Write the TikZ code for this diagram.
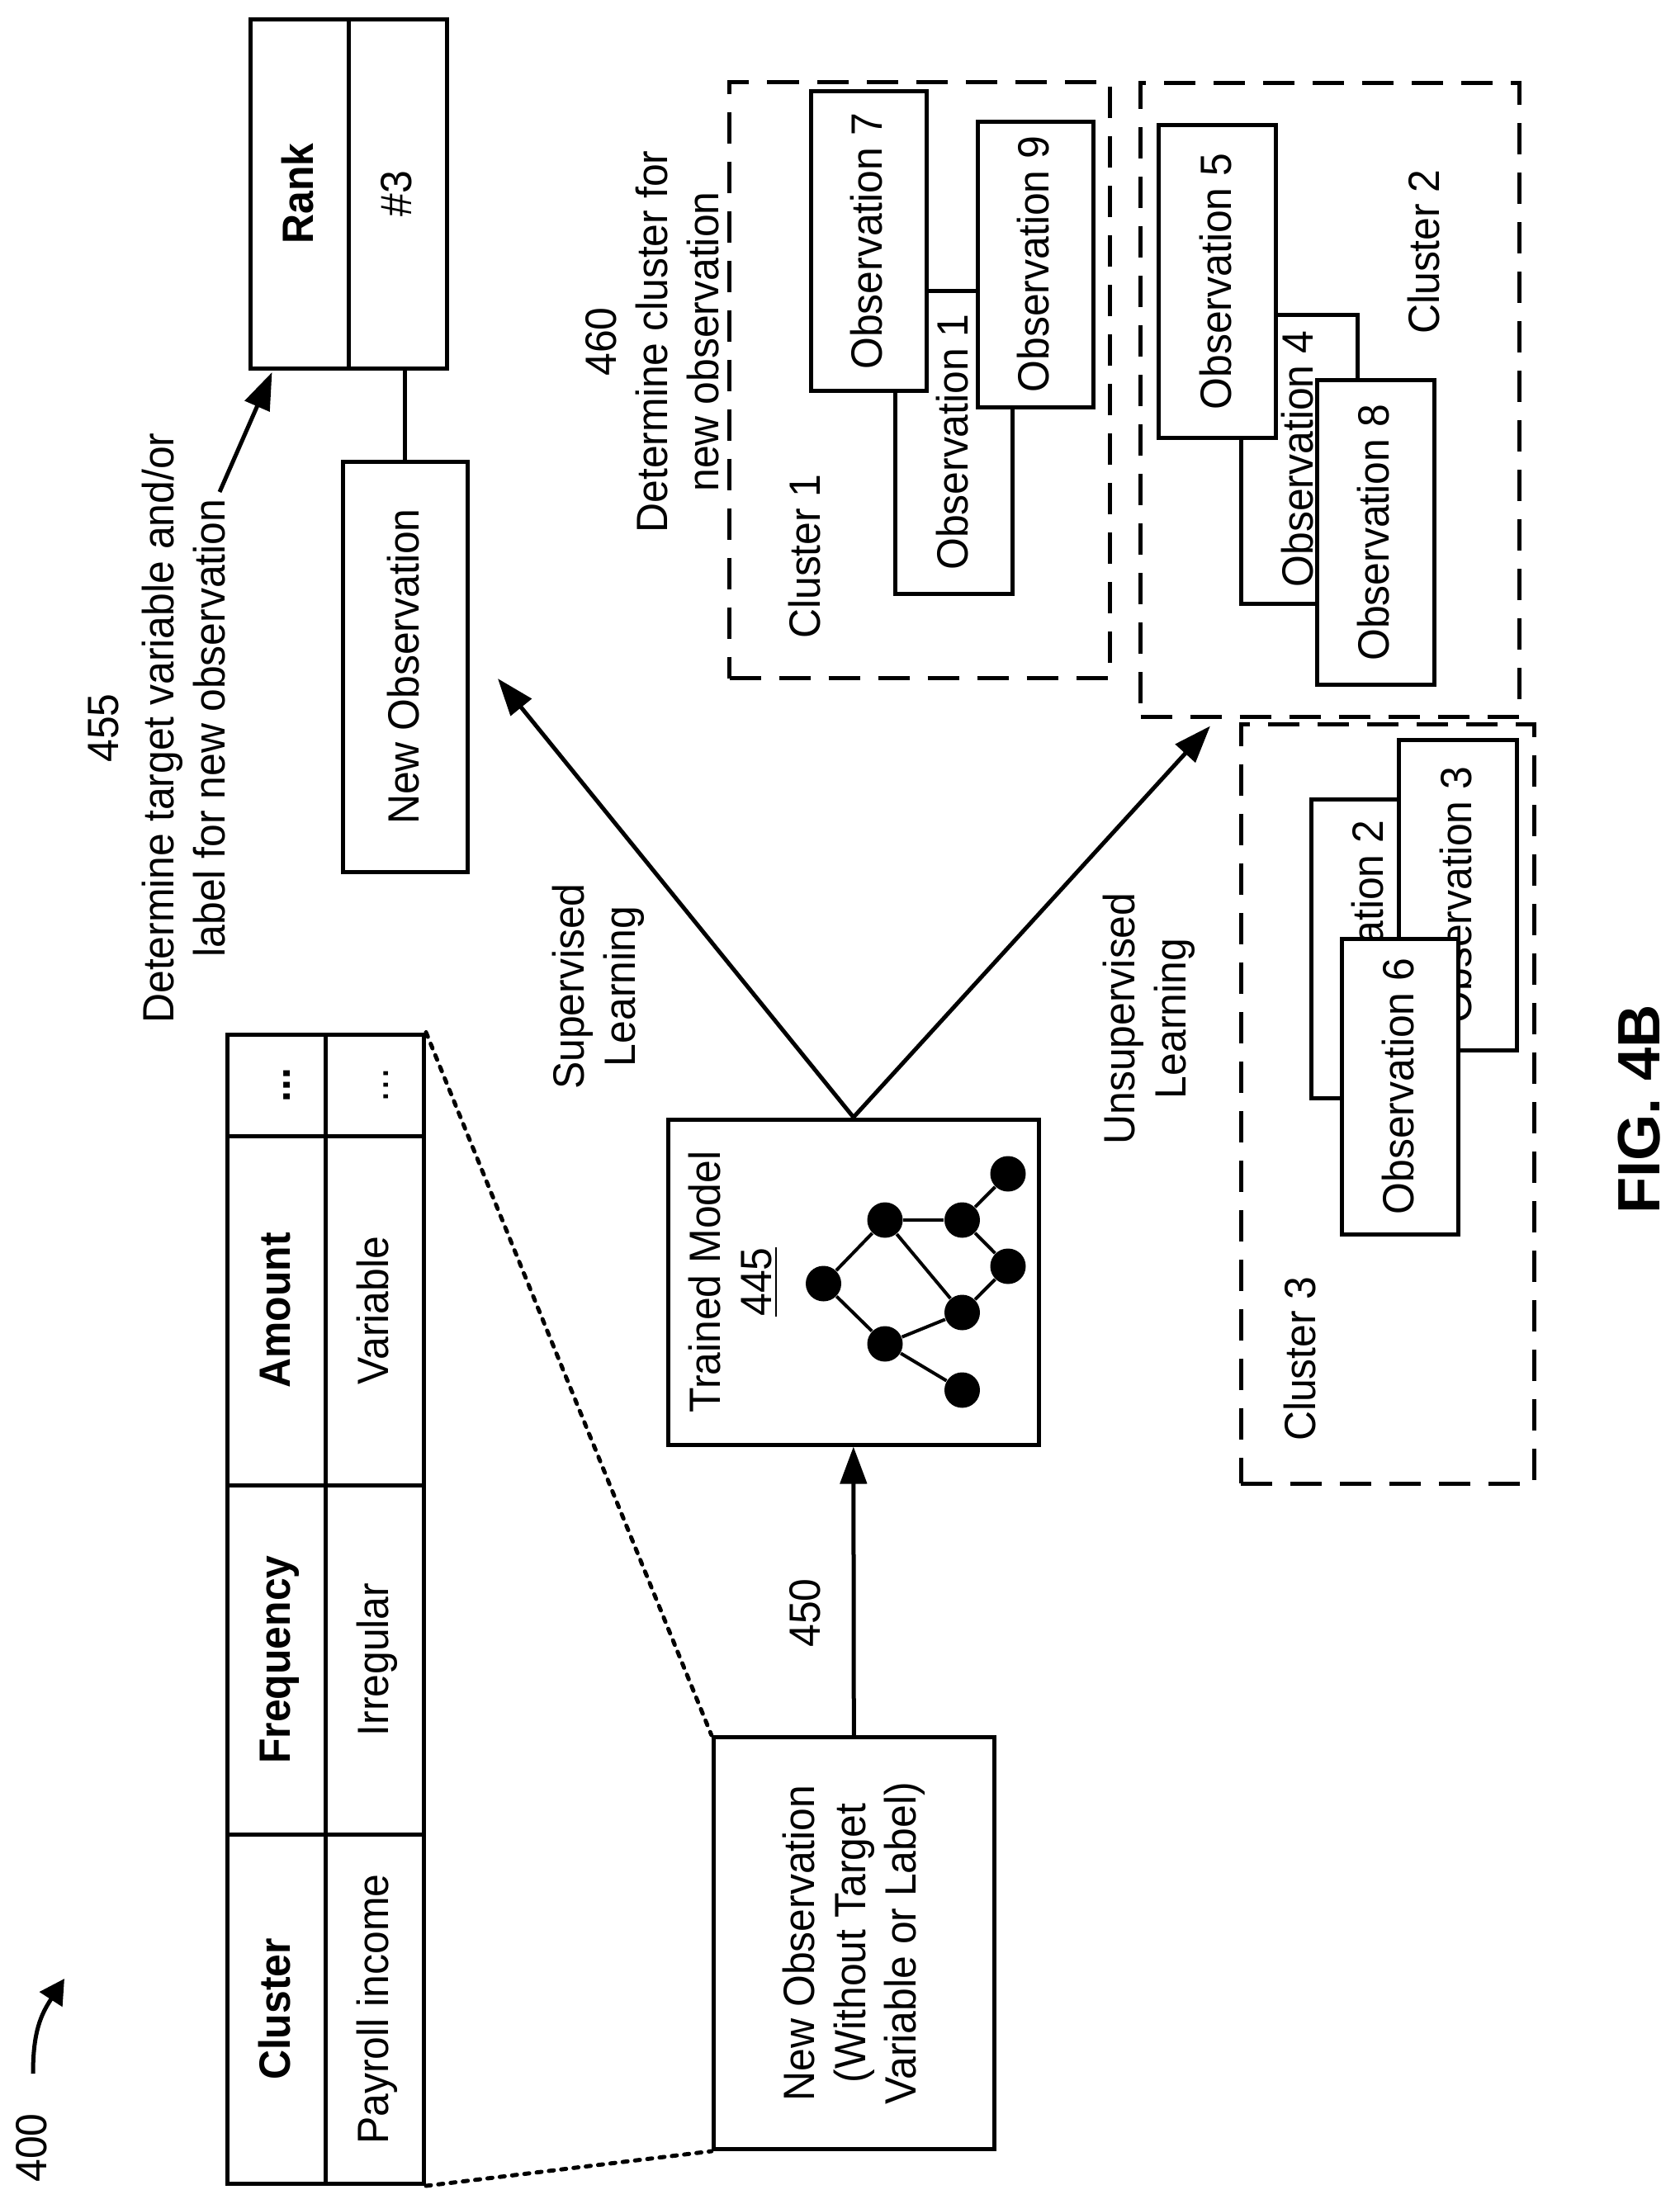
\documentclass[tikz,border=0pt]{standalone}
\usepackage{fontspec}
\setmainfont[FakeStretch=0.94]{Liberation Sans}
\newfontfamily\figfont{Liberation Sans}
\usetikzlibrary{arrows.meta}
\tikzset{
  basefont/.style={font=\fontsize{15.1}{17.6}\selectfont},
  lbl/.style={basefont,rotate=90,align=center,inner sep=0pt},
  obsbox/.style={basefont,draw,fill=white,line width=.05cm,rotate=90,inner sep=0pt,minimum height=1.42cm,text height=.38cm,text depth=.05cm},
  cellbox/.style={basefont,draw,line width=.05cm,rotate=90,inner sep=0pt,minimum height=1.19cm,text height=.38cm,text depth=.05cm},
  clusterbox/.style={draw,line width=.05cm,dash pattern=on .38cm off .22cm,inner sep=0pt},
  flow/.style={line width=.05cm,-{Triangle[length=.45cm,width=.32cm]}},
  dotline/.style={line width=.05cm,line cap=round,dash pattern=on .06cm off .09cm},
  netdot/.style={circle,fill=black,inner sep=0pt,minimum size=.43cm},
}
\begin{document}
\begin{tikzpicture}[x=1cm,y=-1cm]
\useasboundingbox (0,0) rectangle (20.34,26.70);

\node[lbl] (reflabel) at (.38,26.02) {400};
\coordinate (curvestart) at (.40,25.12);
\coordinate (curveend) at (.78,23.97);
\draw[line width=.05cm,-{Triangle[length=.30cm,width=.32cm]}] (curvestart) .. controls (.40,24.6) and (.5,24.4) .. (curveend);

\node[cellbox,minimum width=4.23cm] (clusterhead) at (3.35,24.34) {\textbf{Cluster}};
\node[cellbox,minimum width=4.23cm] (clusterval) at (4.54,24.34) {Payroll income};
\node[cellbox,minimum width=4.23cm] (freqhead) at (3.35,20.105) {\textbf{Frequency}};
\node[cellbox,minimum width=4.23cm] (freqval) at (4.54,20.105) {Irregular};
\node[cellbox,minimum width=4.23cm] (amounthead) at (3.35,15.875) {\textbf{Amount}};
\node[cellbox,minimum width=4.23cm] (amountval) at (4.54,15.875) {Variable};
\node[cellbox,minimum width=1.23cm] (morehead) at (3.35,13.145) {\textbf{...}};
\node[cellbox,minimum width=1.23cm] (moreval) at (4.54,13.145) {...};

\node[cellbox,minimum width=4.23cm] (rankhead) at (3.625,2.345) {\textbf{Rank}};
\node[cellbox,minimum width=4.23cm] (rankval) at (4.815,2.345) {\#3};

\node[obsbox,minimum width=4.97cm,minimum height=1.51cm] (newobs) at (4.905,8.075) {New Observation};
\draw[line width=.05cm] (newobs.east) -- (newobs.east |- rankval.west);

\node[lbl] (targetlabel) at (1.90,8.82) {455\\[.05cm]Determine target variable and/or\\label for new observation};
\coordinate (targetstart) at (2.66,5.96);
\coordinate (targetend) at (3.295,4.51);
\draw[line width=.05cm,-{Triangle[length=.45cm,width=.32cm]}] (targetstart) -- (targetend);

\node[cellbox,minimum width=4.99cm,minimum height=3.40cm,text height=,text depth=,align=center] (newbox) at (10.343,23.54) {New Observation\\(Without Target\\Variable or Label)};
\draw[dotline] (moreval.south east) -- (newbox.north east);
\draw[dotline] (clusterval.south west) -- (newbox.north west);

\node[cellbox,minimum width=3.94cm,minimum height=4.485cm] (trained) at (10.338,15.53) {};
\draw[flow] (newbox.east) -- (trained.west);
\node[lbl] (labelflow) at (9.75,19.54) {450};
\node[lbl] (trainedtext) at (8.88,15.53) {Trained Model\\\underline{445}};

\foreach \name/\x/\y in {na/9.975/15.55,nb/10.72/14.78,nc/10.72/16.28,nd/11.655/14.78,ne/11.655/15.90,nf/11.655/16.84,ng/12.21/14.22,nh/12.21/15.34}
  \node[netdot] (\name) at (\x,\y) {};
\foreach \a/\b in {na/nb,na/nc,nb/nd,nb/ne,nc/ne,nc/nf,nd/ng,nd/nh,ne/nh}
  \draw[line width=.04cm] (\a) -- (\b);

\coordinate (suptip) at (6.03,8.22);
\coordinate (unsuptip) at (14.66,8.795);
\draw[flow] (trained.east) -- (suptip);
\draw[flow] (trained.east) -- (unsuptip);
\node[lbl] (suplabel) at (7.25,11.95) {Supervised\\Learning};
\node[lbl] (unsuplabel) at (13.92,12.34) {Unsupervised\\Learning};

\node[lbl] (clusterlabel) at (7.90,4.14) {460\\Determine cluster for\\new observation};

\node[clusterbox,minimum width=4.61cm,minimum height=7.22cm] (clusterone) at (11.14,4.606) {};
\node[lbl] (clusteronetext) at (9.75,6.74) {Cluster 1};
\node[obsbox,minimum width=3.67cm] (obsone) at (11.558,5.355) {Observation 1};
\node[obsbox,minimum width=3.63cm,minimum height=1.395cm] (obsseven) at (10.523,2.924) {Observation 7};
\node[obsbox,minimum width=3.46cm,minimum height=1.40cm] (obsnine) at (12.54,3.20) {Observation 9};

\node[clusterbox,minimum width=4.59cm,minimum height=7.68cm] (clustertwo) at (16.11,4.84) {};
\node[lbl] (clustertwotext) at (17.25,3.05) {Cluster 2};
\node[obsbox,minimum width=3.50cm,minimum height=1.41cm] (obsfour) at (15.735,5.56) {Observation 4};
\node[obsbox,minimum width=3.785cm] (obsfive) at (14.746,3.41) {Observation 5};
\node[obsbox,minimum width=3.69cm,minimum height=1.425cm] (obseight) at (16.663,6.453) {Observation 8};

\node[clusterbox,minimum width=3.555cm,minimum height=9.20cm] (clusterthree) at (16.81,13.37) {};
\node[lbl] (clusterthreetext) at (15.75,16.46) {Cluster 3};
\node[obsbox,minimum width=3.62cm] (obstwo) at (16.59,11.49) {Observation 2};
\node[obsbox,minimum width=3.76cm,minimum height=1.425cm] (obsthree) at (17.66,10.84) {Observation 3};
\node[obsbox,minimum width=3.58cm,minimum height=1.41cm] (obssix) at (16.955,13.16) {Observation 6};

\node[lbl,font=\fontsize{20.6}{24}\selectfont\figfont\bfseries] (figlabel) at (19.86,13.44) {FIG. 4B};

\end{tikzpicture}
\end{document}
